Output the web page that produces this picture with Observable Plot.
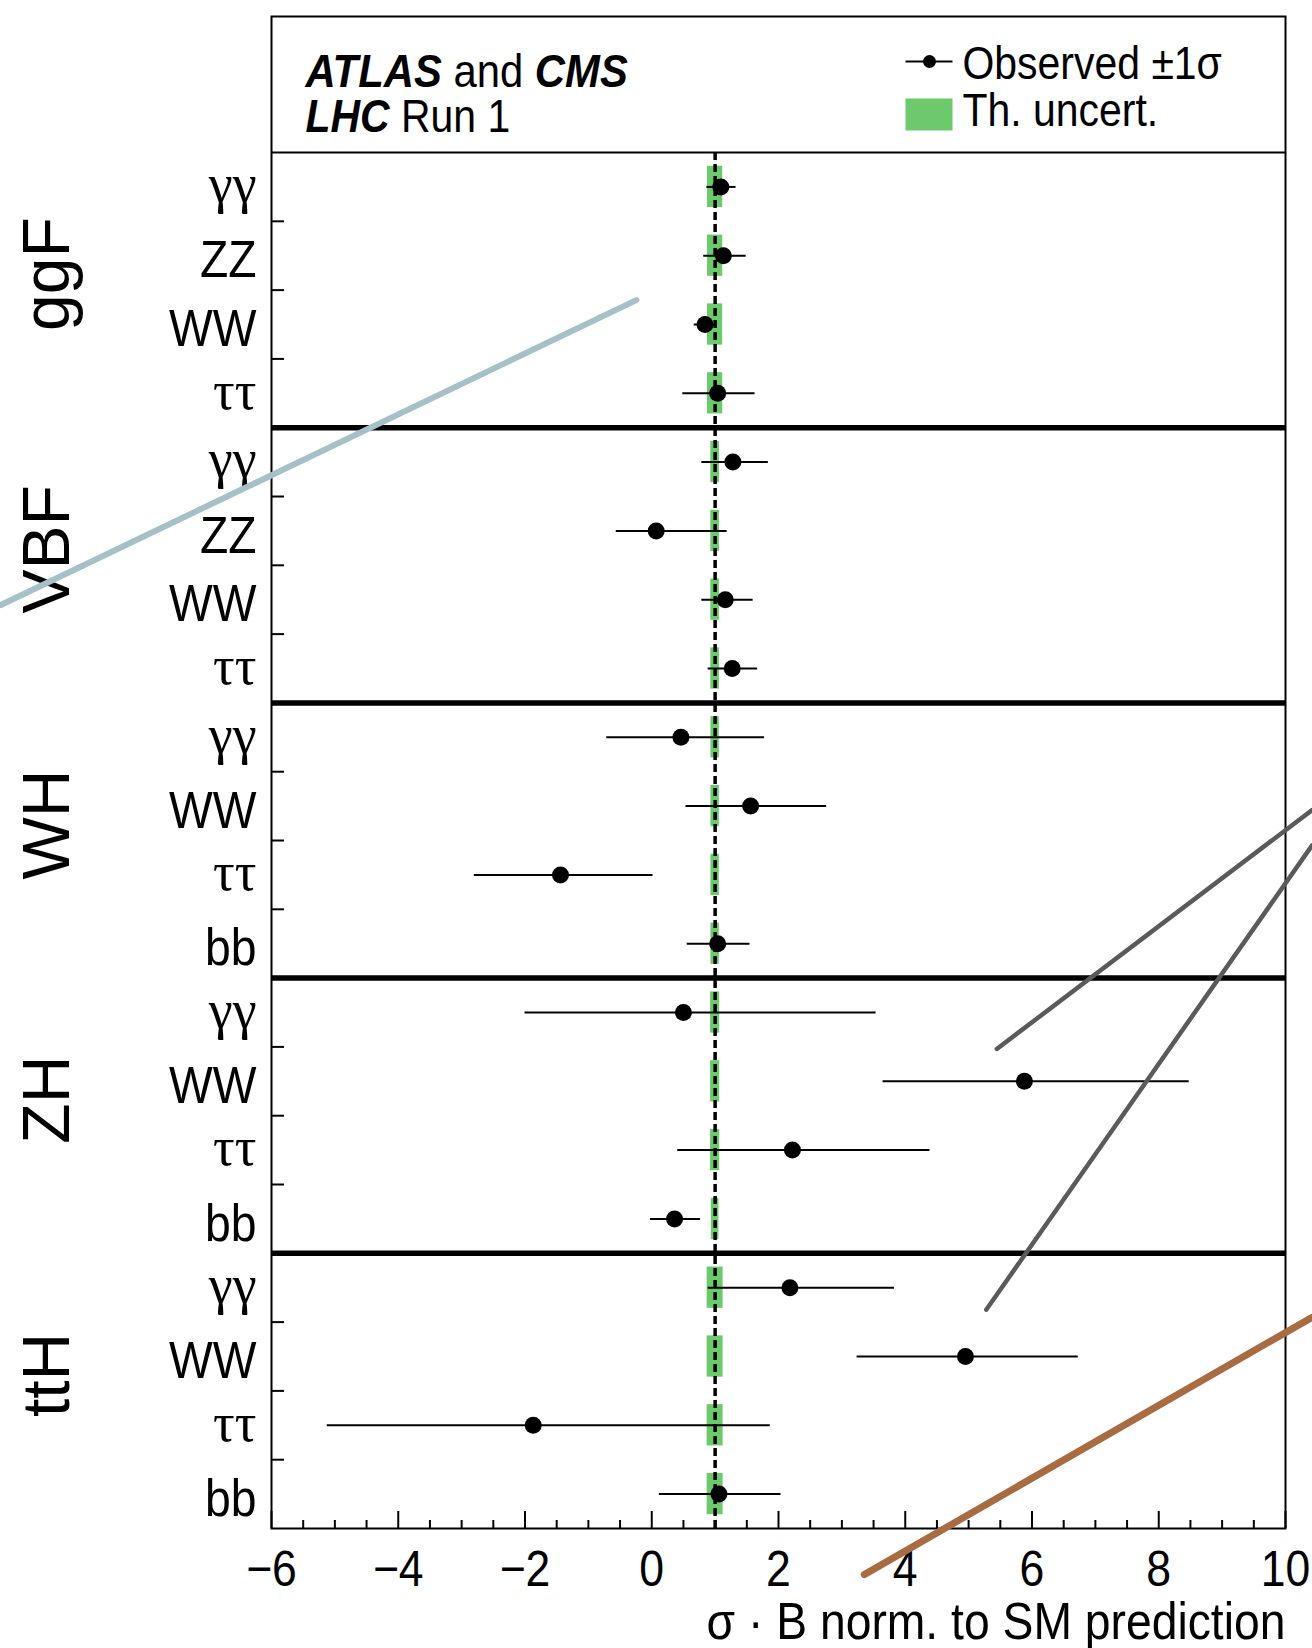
<!DOCTYPE html>
<html><head><meta charset="utf-8">
<script src="https://cdn.jsdelivr.net/npm/d3@7"></script>
<script src="https://cdn.jsdelivr.net/npm/@observablehq/plot@0.6"></script>
<style>
html,body{margin:0;padding:0;background:#fff;}
#chart svg{display:block;}
</style></head><body><div id="chart"></div>
<script>
// ---- data ----
const groups = ["ggF", "VBF", "WH", "ZH", "ttH"];
const channels = [
  ["γγ", "ZZ", "WW", "ττ"],
  ["γγ", "ZZ", "WW", "ττ"],
  ["γγ", "WW", "ττ", "bb"],
  ["γγ", "WW", "ττ", "bb"],
  ["γγ", "WW", "ττ", "bb"]
];
const observed = [1.09, 1.13, 0.84, 1.04,  1.28, 0.07, 1.16, 1.27,  0.46, 1.56, -1.44, 1.04,  0.50, 5.88, 2.22, 0.36,  2.18, 4.95, -1.87, 1.06];
const errLow   = [0.87, 0.82, 0.67, 0.49,  0.79, -0.56, 0.79, 0.89,  -0.71, 0.54, -2.80, 0.56,  -2.00, 3.65, 0.41, -0.02,  0.89, 3.24, -5.12, 0.12];
const errHigh  = [1.33, 1.49, 1.00, 1.63,  1.84, 1.19, 1.60, 1.67,  1.78, 2.76, 0.02, 1.55,  3.54, 8.48, 4.39, 0.77,  3.83, 6.73, 1.87, 2.04];
const thUnc    = [0.12, 0.12, 0.12, 0.12,  0.068, 0.068, 0.068, 0.068,  0.066, 0.066, 0.066, 0.066,  0.072, 0.072, 0.072, 0.06,  0.126, 0.126, 0.126, 0.126];
const smValue = 1;
const xTicks = [-6, -4, -2, 0, 2, 4, 6, 8, 10];
const xTitle = "σ · B norm. to SM prediction";
const headerLines = ["ATLAS and CMS", "LHC Run 1"];
const legendLabels = ["Observed ±1σ", "Th. uncert."];
// stray strokes on the figure (x in plot units, y in row units)
const strokeBlueX = [-10.27, -0.243], strokeBlueY = [6.577, 2.145];
const strokeGrayAX = [5.445, 10.42], strokeGrayAY = [13.03, 9.557];
const strokeGrayBX = [5.278, 10.42], strokeGrayBY = [16.82, 10.07];
const strokeBrownX = [3.353, 10.42], strokeBrownY = [20.67, 16.93];

// ---- build table ----
const nPer = 4;
const rows = [];
groups.forEach((g, gi) => channels[gi].forEach((c, ci) => {
  const k = gi * nPer + ci;
  rows.push({group: g, channel: c, pos: k + 0.5, obs: observed[k], lo: errLow[k], hi: errHigh[k], th: thUnc[k]});
}));
const nRows = rows.length;
const groupCenters = groups.map((g, gi) => ({g, pos: gi * nPer + nPer / 2}));
const separators = groups.slice(1).map((g, gi) => (gi + 1) * nPer);
const rowBounds = d3.range(1, nRows).filter(b => b % nPer !== 0);
const minorX = d3.range(-6, 10.001, 0.5).filter(v => !xTicks.includes(v));
const labelOf = new Map(rows.map(r => [r.pos, r.channel]));
const isGreek = s => /^[γτ]+$/.test(s);
const greekPos = rows.filter(r => isGreek(r.channel)).map(r => r.pos);
const latinPos = rows.filter(r => !isGreek(r.channel)).map(r => r.pos);
const toLine = (xs, ys) => xs.map((x, i) => ({x, y: ys[i]}));

const W = 1312, H = 1648;
const mL = 271, mR = 27, mT = 16, mB = 120;
const fw = W - mL - mR, fh = H - mT - mB;
const headerRows = 1.977;
const sans = "'Liberation Sans', Arial, Helvetica, sans-serif";
const serif = "'Liberation Serif', 'Times New Roman', serif";

const plot = Plot.plot({
  width: W, height: H,
  marginLeft: mL, marginRight: mR, marginTop: mT, marginBottom: mB,
  x: {domain: [-6, 10]},
  y: {domain: [-headerRows, nRows], reverse: true},
  style: {fontFamily: sans, background: "white", color: "black"},
  marks: [
    // theory uncertainty boxes
    Plot.rect(rows, {x1: d => smValue - d.th, x2: d => smValue + d.th, y1: d => d.pos - 0.3, y2: d => d.pos + 0.3, fill: "#6cca6c"}),
    // SM dashed line
    Plot.ruleX([smValue], {y1: 0, y2: nRows, stroke: "black", strokeWidth: 3.5, strokeDasharray: "8,4"}),
    // error bars
    Plot.ruleY(rows, {y: "pos", x1: "lo", x2: "hi", stroke: "black", strokeWidth: 2}),
    Plot.dot(rows, {x: "obs", y: "pos", r: 8.5, fill: "black", stroke: null}),
    // separators
    Plot.ruleY(separators, {stroke: "black", strokeWidth: 5.5}),
    Plot.ruleY([0], {stroke: "black", strokeWidth: 2}),
    // inner ticks
    Plot.ruleY(rowBounds, {stroke: "black", strokeWidth: 2, insetRight: fw - 13}),
    Plot.ruleX(xTicks, {stroke: "black", strokeWidth: 2, insetTop: fh - 17}),
    Plot.ruleX(minorX, {stroke: "black", strokeWidth: 2, insetTop: fh - 8}),
    Plot.frame({stroke: "black", strokeWidth: 2}),
    // axes
    Plot.axisX(xTicks, {tickSize: 0, tickPadding: 22, fontSize: 50, label: null, tickFormat: d => d < 0 ? "\u2212" + Math.abs(d) : String(d)}),
    Plot.axisY(latinPos, {anchor: "left", tickSize: 0, tickPadding: 15, fontSize: 52, label: null, tickFormat: d => labelOf.get(d), dy: 5}),
    Plot.axisY(greekPos, {anchor: "left", tickSize: 0, tickPadding: 15, fontSize: 54, fontFamily: serif, label: null, tickFormat: d => labelOf.get(d), dy: -2}),
    Plot.text(groupCenters, {y: "pos", text: "g", frameAnchor: "left", dx: -224, dy: -16, rotate: -90, fontSize: 66, textAnchor: "middle", lineAnchor: "middle"}),
    Plot.text([xTitle], {frameAnchor: "bottom-right", dy: 110, textAnchor: "end", lineAnchor: "bottom", fontSize: 52}),
    // header
    Plot.text([headerLines[0]], {frameAnchor: "top-left", dx: 34, dy: 70, textAnchor: "start", lineAnchor: "bottom", fontSize: 47}),
    Plot.text([headerLines[1]], {frameAnchor: "top-left", dx: 34, dy: 115, textAnchor: "start", lineAnchor: "bottom", fontSize: 46}),
    // legend
    Plot.frame({fill: "black", stroke: null, insetLeft: 634, insetRight: fw - 681, insetTop: 44, insetBottom: fh - 46}),
    Plot.dot([0], {frameAnchor: "top-left", dx: 658, dy: 45, r: 6.5, fill: "black", stroke: null}),
    Plot.frame({fill: "#6cca6c", stroke: null, insetLeft: 634, insetRight: fw - 681, insetTop: 82, insetBottom: fh - 114}),
    Plot.text([legendLabels[0]], {frameAnchor: "top-left", dx: 691, dy: 62, textAnchor: "start", lineAnchor: "bottom", fontSize: 46}),
    Plot.text([legendLabels[1]], {frameAnchor: "top-left", dx: 691, dy: 109, textAnchor: "start", lineAnchor: "bottom", fontSize: 46}),
    // stray strokes
    Plot.line(toLine(strokeBlueX, strokeBlueY), {x: "x", y: "y", stroke: "#a6c0c8", strokeWidth: 6}),
    Plot.line(toLine(strokeGrayAX, strokeGrayAY), {x: "x", y: "y", stroke: "#5a5a5a", strokeWidth: 4.5}),
    Plot.line(toLine(strokeGrayBX, strokeGrayBY), {x: "x", y: "y", stroke: "#5a5a5a", strokeWidth: 4.5}),
    Plot.line(toLine(strokeBrownX, strokeBrownY), {x: "x", y: "y", stroke: "#a86b42", strokeWidth: 7})
  ]
});
document.getElementById("chart").append(plot);

// bold-italic experiment names in header
const boldWords = new Set(["ATLAS", "CMS", "LHC"]);
plot.querySelectorAll("text").forEach(t => {
  const s = t.textContent;
  if (headerLines.includes(s)) {
    t.textContent = "";
    s.split(/(\s+)/).forEach(part => {
      const ts = document.createElementNS("http://www.w3.org/2000/svg", "tspan");
      ts.textContent = part;
      if (boldWords.has(part)) { ts.setAttribute("font-weight", "bold"); ts.setAttribute("font-style", "italic"); }
      t.appendChild(ts);
    });
  }
});
// condensed look of the horizontal text
plot.querySelectorAll("text").forEach(t => {
  const tr = t.getAttribute("transform") || "";
  if (tr.includes("rotate")) return;
  if (isGreek(t.textContent)) return;
  const len = t.getComputedTextLength();
  if (len > 0) {
    t.setAttribute("textLength", (len * 0.89).toFixed(1));
    t.setAttribute("lengthAdjust", "spacingAndGlyphs");
  }
});
</script></body></html>
